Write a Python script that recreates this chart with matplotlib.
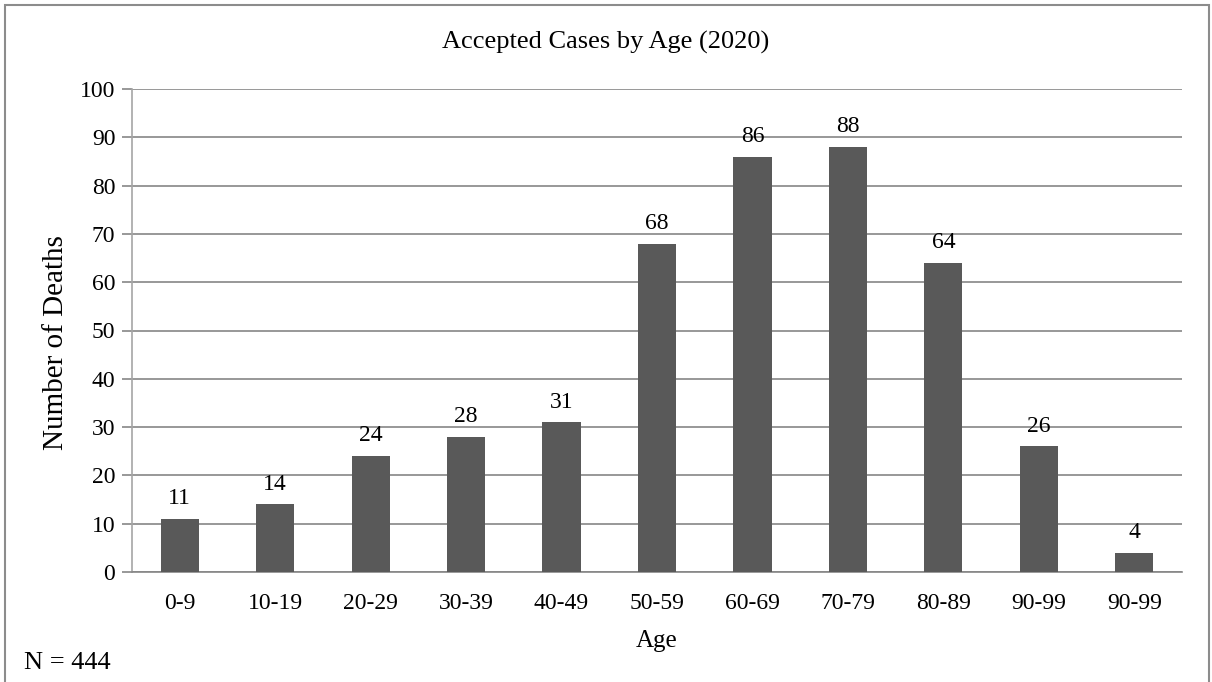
import matplotlib
matplotlib.use("Agg")
import matplotlib.pyplot as plt
from matplotlib.patches import Rectangle

categories = ["0-9", "10-19", "20-29", "30-39", "40-49", "50-59", "60-69", "70-79", "80-89", "90-99", "90-99"]
deaths = [11, 14, 24, 28, 31, 68, 86, 88, 64, 26, 4]
title = "Accepted Cases by Age (2020)"
note = "N = 444"

plt.rcParams['font.family'] = ['Liberation Serif', 'DejaVu Serif']

W, H = 1212, 682
FS = 17
fig = plt.figure(figsize=(W / 100, H / 100), dpi=100)
ax = fig.add_axes([132 / W, 1 - 572 / H, (1182 - 132) / W, (572 - 89) / H])

x = list(range(len(categories)))
bars = ax.bar(x, deaths, width=0.4, color="#595959", zorder=3)
for xi, v in zip(x, deaths):
    ax.annotate(str(v), (xi, v), xytext=(0, 7), textcoords="offset points",
                ha="center", va="bottom", fontsize=FS, color="black", zorder=4)

ax.set_xlim(-0.5, len(categories) - 0.5)
ax.set_ylim(0, 100)
ax.set_yticks(range(0, 101, 10))
ax.set_xticks(x)
ax.set_xticklabels(categories)
ax.grid(axis="y", color="#868686", linewidth=1.2, zorder=0)
for s in ["top", "right"]:
    ax.spines[s].set_visible(False)
ax.spines["left"].set_color("#a6a6a6")
ax.spines["left"].set_linewidth(1.2)
ax.spines["bottom"].set_color("#868686")
ax.spines["bottom"].set_linewidth(1.2)
ax.tick_params(axis="y", length=7, color="#868686", width=1.2, labelsize=FS, pad=5)
ax.tick_params(axis="x", length=0, labelsize=FS, pad=15)
ax.set_xlabel("Age", fontsize=18)
ax.set_ylabel("Number of Deaths", fontsize=21)
ax.yaxis.set_label_coords(-(132 - 69) / 1050, 0.476)
ax.xaxis.set_label_coords((657 - 132) / 1050, -(630 - 572) / 483)

fig.text(606 / W, 1 - 42 / H, title, ha="center", va="center", fontsize=19)
fig.text(24 / W, 1 - 663 / H, note, ha="left", va="center", fontsize=19)

border = Rectangle((5 / W, -0.05), (1209 - 5) / W, 1 - 5 / H + 0.05, transform=fig.transFigure,
                   fill=False, edgecolor="#8c8c8c", linewidth=1.5)
fig.patches.append(border)

fig.savefig("out.png", dpi=100)
